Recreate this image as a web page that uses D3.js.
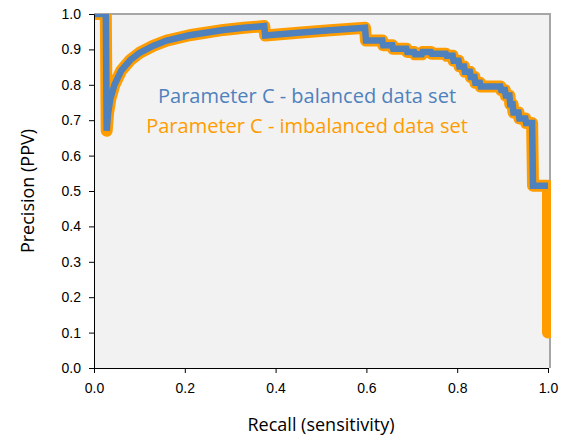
<!DOCTYPE html>
<html>
<head>
<meta charset="utf-8">
<script src="https://cdn.jsdelivr.net/npm/d3@7"></script>
<style>
body { margin: 0; background: #fff; }
svg { font-family: "Open Sans", "Noto Sans", sans-serif; }
.tick text { font-size: 14px; fill: #000; }
</style>
</head>
<body>
<div id="chart"></div>
<script>
// values
var recall = [0, 0.024, 0.026, 0.028, 0.031, 0.036, 0.045, 0.060, 0.080, 0.100, 0.130, 0.160, 0.210, 0.285, 0.330, 0.375,
    0.377, 0.450, 0.520, 0.597, 0.599, 0.635, 0.637, 0.657, 0.659, 0.688, 0.690, 0.705, 0.707, 0.722, 0.724,
    0.742, 0.744, 0.775, 0.777, 0.790, 0.792, 0.803, 0.805, 0.815, 0.817, 0.828, 0.830, 0.838, 0.840, 0.850,
    0.852, 0.895, 0.897, 0.905, 0.907, 0.915, 0.917, 0.922, 0.924, 0.935, 0.937, 0.950, 0.952, 0.965, 0.967,
    1.0, 1.0];
var precisionBalanced = [1.0, 1.0, 1.0, 0.670, 0.720, 0.760, 0.800, 0.840, 0.870, 0.890, 0.910, 0.925, 0.940, 0.955, 0.961, 0.966,
    0.939, 0.947, 0.954, 0.961, 0.925, 0.925, 0.912, 0.912, 0.902, 0.902, 0.893, 0.893, 0.886, 0.886, 0.893,
    0.893, 0.888, 0.888, 0.882, 0.882, 0.868, 0.868, 0.852, 0.852, 0.837, 0.837, 0.822, 0.822, 0.806, 0.806,
    0.795, 0.795, 0.785, 0.785, 0.770, 0.770, 0.745, 0.745, 0.722, 0.722, 0.705, 0.705, 0.692, 0.692, 0.515,
    0.515, null];
var precisionImbalanced = [1.0, 1.0, 1.0, 0.670, 0.720, 0.760, 0.800, 0.840, 0.870, 0.890, 0.910, 0.925, 0.940, 0.955, 0.961, 0.966,
    0.939, 0.947, 0.954, 0.961, 0.925, 0.925, 0.912, 0.912, 0.902, 0.902, 0.893, 0.893, 0.886, 0.886, 0.893,
    0.893, 0.888, 0.888, 0.882, 0.882, 0.868, 0.868, 0.852, 0.852, 0.837, 0.837, 0.822, 0.822, 0.806, 0.806,
    0.795, 0.795, 0.785, 0.785, 0.770, 0.770, 0.745, 0.745, 0.722, 0.722, 0.705, 0.705, 0.692, 0.692, 0.515,
    0.515, 0.100];
var xTicks = [0, 0.2, 0.4, 0.6, 0.8, 1.0];
var yTicks = [0, 0.1, 0.2, 0.3, 0.4, 0.5, 0.6, 0.7, 0.8, 0.9, 1.0];

var width = 566;
var height = 435;
var pLeft = 94, pRight = 548, pTop = 14, pBottom = 368;

var svg = d3.select("#chart")
    .append("svg")
    .attr("width", width)
    .attr("height", height);

var xScale = d3.scaleLinear().domain([0, 1]).range([pLeft, pRight]);
var yScale = d3.scaleLinear().domain([0, 1]).range([pBottom, pTop]);

// plot area
svg.append("rect")
    .attr("x", pLeft).attr("y", pTop)
    .attr("width", pRight - pLeft + 2).attr("height", pBottom - pTop)
    .attr("fill", "#f2f2f2");

svg.append("clipPath").attr("id", "clip")
    .append("rect")
    .attr("x", pLeft).attr("y", pTop)
    .attr("width", pRight - pLeft + 3).attr("height", pBottom - pTop);

// top + right frame
svg.append("path")
    .attr("d", `M${pLeft},${pTop}H${pRight + 2}V${pBottom}`)
    .attr("fill", "none")
    .attr("stroke", "#a6a6a6")
    .attr("stroke-width", 2);

var rows = recall.map(function(r, i) {
    return {r: r, b: precisionBalanced[i], im: precisionImbalanced[i]};
});

var lineImb = d3.line()
    .defined(function(d) { return d.im != null; })
    .x(function(d) { return xScale(d.r); })
    .y(function(d) { return yScale(d.im); });

var lineBal = d3.line()
    .defined(function(d) { return d.b != null; })
    .x(function(d) { return xScale(d.r); })
    .y(function(d) { return yScale(d.b); });

var lines = svg.append("g").attr("clip-path", "url(#clip)");

lines.append("path")
    .datum(rows)
    .attr("d", lineImb)
    .attr("fill", "none")
    .attr("stroke", "#ff9c00")
    .attr("stroke-width", 12)
    .attr("stroke-linejoin", "round")
    .attr("stroke-linecap", "round");

lines.append("path")
    .datum(rows)
    .attr("d", lineBal)
    .attr("fill", "none")
    .attr("stroke", "#4f81bd")
    .attr("stroke-width", 6.5)
    .attr("stroke-linejoin", "miter")
    .attr("stroke-linecap", "butt");

// axes
var xAxis = d3.axisBottom(xScale)
    .tickValues(xTicks)
    .tickFormat(d3.format(".1f"))
    .tickSize(5).tickPadding(10).tickSizeOuter(0);
var yAxis = d3.axisLeft(yScale)
    .tickValues(yTicks)
    .tickFormat(d3.format(".1f"))
    .tickSize(5).tickPadding(8).tickSizeOuter(0);

svg.append("g")
    .attr("transform", `translate(0, ${pBottom})`)
    .call(xAxis);

svg.append("g")
    .attr("transform", `translate(${pLeft}, 0)`)
    .call(yAxis);

svg.selectAll(".domain, .tick line").attr("stroke", "#000");

// series labels
svg.append("text")
    .attr("x", 307).attr("y", 103)
    .attr("text-anchor", "middle")
    .attr("font-size", 20)
    .attr("fill", "#4f81bd")
    .text("Parameter C - balanced data set");

svg.append("text")
    .attr("x", 307).attr("y", 133)
    .attr("text-anchor", "middle")
    .attr("font-size", 20)
    .attr("fill", "#ff9c00")
    .text("Parameter C - imbalanced data set");

// axis titles
svg.append("text")
    .attr("x", (pLeft + pRight) / 2).attr("y", 431)
    .attr("text-anchor", "middle")
    .attr("font-size", 18)
    .text("Recall (sensitivity)");

svg.append("text")
    .attr("transform", `translate(34, ${(pTop + pBottom) / 2}) rotate(-90)`)
    .attr("text-anchor", "middle")
    .attr("font-size", 18)
    .text("Precision (PPV)");
</script>
</body>
</html>
